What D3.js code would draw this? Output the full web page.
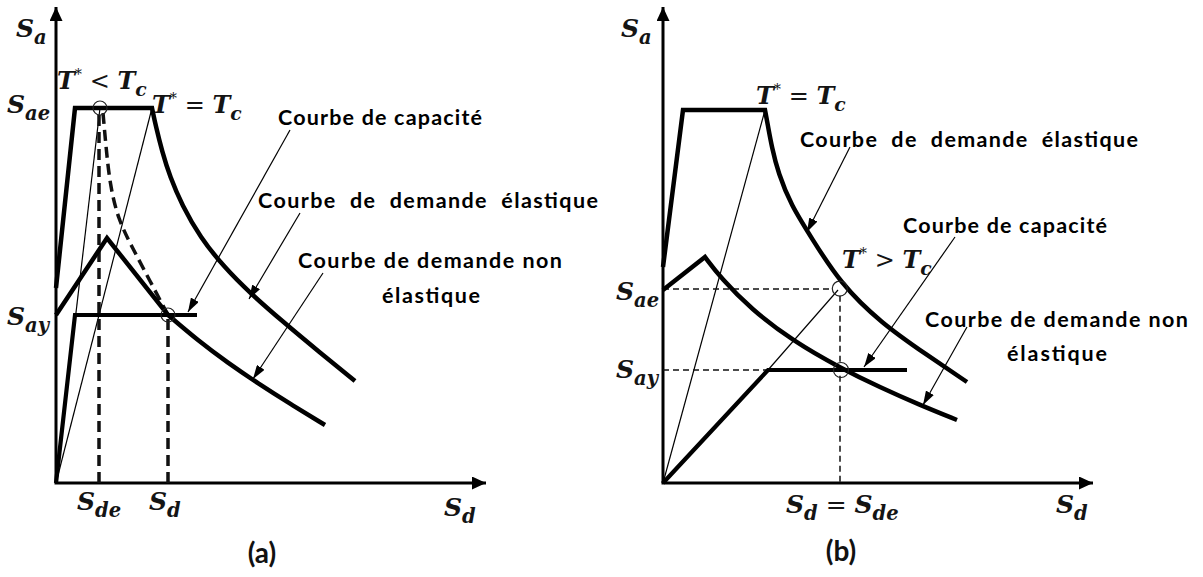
<!DOCTYPE html>
<html>
<head>
<meta charset="utf-8">
<script src="https://cdn.jsdelivr.net/npm/d3@7"></script>
<style>
  body { margin: 0; background: #fff; }
  svg { display: block; }
  .math { font-family: "DejaVu Serif", "Liberation Serif", serif; font-style: italic; font-weight: bold; fill: #141414; }
  .lbl { font-family: Lato, "Open Sans", sans-serif; font-weight: bold; fill: #000; white-space: pre; }
  .panel { font-family: Lato, "Open Sans", sans-serif; font-weight: bold; fill: #111; }
</style>
</head>
<body>
<svg id="chart" width="1203" height="577"></svg>
<script>
// ---------- Panel (a): T* < Tc  (Sd, Sa in arbitrary units) ----------
const aElasticRise   = [[0, 4.875], [0.475, 9.375], [2.4, 9.375]];
const aElasticFall   = [[2.4, 9.375], [2.5, 8.9], [2.65, 8.3], [2.85, 7.65], [3.15, 6.95],
                        [3.6, 6.15], [4.2, 5.4], [4.85, 4.75], [5.65, 4.05], [6.55, 3.3], [7.475, 2.55]];
const aInelasticRise = [[0, 4.2], [1.275, 6.125], [2.8, 4.2]];
const aInelasticFall = [[2.8, 4.2], [3.55, 3.56], [4.3, 3.0], [5.05, 2.49], [5.85, 1.98], [6.725, 1.45]];
const aCapacity      = [[0, 0], [0.475, 4.2], [3.525, 4.2]];
const aPeriodRays    = [[[0, 0], [1.1, 9.375]], [[0, 0], [2.4, 9.375]]];
const aEquivDemand   = [[1.175, 9.25], [1.25, 8.4], [1.35, 7.45], [1.55, 6.6], [1.9, 5.9], [2.35, 5.05], [2.8, 4.2]];
const aPoints        = [[1.1, 9.375], [2.8, 4.2]];
const aSae = 9.375, aSay = 4.2, aSde = 1.075, aSd = 2.8;

// ---------- Panel (b): T* > Tc ----------
const bElasticRise   = [[0, 5.4], [0.5, 9.325], [2.55, 9.325]];
const bElasticFall   = [[2.55, 9.325], [2.62, 8.95], [2.72, 8.4], [2.88, 7.75], [3.2, 6.95], [3.7, 6.15],
                        [4.425, 5.0], [5.45, 4.0], [6.6, 3.2], [7.6, 2.525]];
const bInelasticRise = [[0, 4.825], [1.05, 5.65]];
const bInelasticFall = [[1.05, 5.65], [1.45, 5.12], [2.2, 4.35], [3.25, 3.55], [4.425, 2.88],
                        [5.45, 2.38], [6.4, 1.96], [7.35, 1.575]];
const bCapacity      = [[0, 0], [2.625, 2.825], [6.1, 2.825]];
const bCapExtension  = [[2.625, 2.825], [4.375, 4.825]];
const bPeriodRay     = [[0, 0], [2.55, 9.325]];
const bPoints        = [[4.42, 4.86], [4.45, 2.825]];
const bSae = 4.85, bSay = 2.825, bSd = 4.425;

// Annotation texts
const curveNames = ["Courbe de capacité", "Courbe  de  demande  élastique", "Courbe de demande non", "élastique"];
const panelTags  = ["(a)", "(b)"];

// ---------- drawing ----------
const svg = d3.select("#chart");
svg.append("rect").attr("width", 1203).attr("height", 577).attr("fill", "#fff");
const defs = svg.append("defs");
function marker(id, len, wid) {
  defs.append("marker").attr("id", id)
    .attr("viewBox", `0 0 ${len} ${wid}`)
    .attr("refX", len).attr("refY", wid / 2)
    .attr("markerWidth", len).attr("markerHeight", wid)
    .attr("markerUnits", "userSpaceOnUse").attr("orient", "auto")
    .append("path").attr("d", `M0,0L${len},${wid / 2}L0,${wid}Z`).attr("fill", "#000");
}
marker("axisHead", 14, 13);
marker("leadHead", 14, 9);

const y  = d3.scaleLinear().domain([0, 10]).range([483, 83]);
const xA = d3.scaleLinear().domain([0, 10]).range([56, 456]);
const xB = d3.scaleLinear().domain([0, 10]).range([663, 1063]);

function mathText(x0, y0, parts, size) {
  const t = svg.append("text").attr("class", "math").attr("x", x0).attr("y", y0).style("font-size", size + "px");
  let shift = 0;
  parts.forEach(p => {
    const target = p.sub ? size * 0.28 : p.sup ? -size * 0.42 : 0;
    const s = t.append("tspan").text(p.t).attr("dy", target - shift);
    if (p.dx) s.attr("dx", p.dx);
    shift = target;
    if (p.sub) s.style("font-size", (size * 0.78) + "px");
    if (p.sup) s.style("font-size", (size * 0.6) + "px").style("font-weight", "normal");
    if (p.op) s.style("font-style", "normal").style("font-weight", "normal");
  });
  return t;
}

function drawPanel(x, d) {
  const line = d3.line().x(p => x(p[0])).y(p => y(p[1]));
  const smooth = d3.line().x(p => x(p[0])).y(p => y(p[1])).curve(d3.curveBasis);
  const joined = (lin, cur) => line(lin) + smooth(cur).replace(/^M[^A-Za-z]+/, "");
  const g = svg.append("g");

  // axes
  g.append("line").attr("x1", x(0)).attr("y1", y(0)).attr("x2", x(0)).attr("y2", y(11.9))
    .attr("stroke", "#000").attr("stroke-width", 3).attr("marker-end", "url(#axisHead)");
  g.append("line").attr("x1", x(0) - 1.5).attr("y1", y(0)).attr("x2", x(d.xEnd)).attr("y2", y(0))
    .attr("stroke", "#000").attr("stroke-width", 3).attr("marker-end", "url(#axisHead)");

  // thin period rays
  d.rays.forEach(r => g.append("path").attr("d", line(r)).attr("fill", "none")
    .attr("stroke", "#000").attr("stroke-width", 1.2));

  // dashed guides
  d.dashes.forEach(r => g.append("path").attr("d", r.smooth ? smooth(r.pts) : line(r.pts)).attr("fill", "none")
    .attr("stroke", "#111").attr("stroke-width", r.w).attr("stroke-dasharray", r.dash));

  // bold curves
  const bold = (dstr, w) => g.append("path").attr("d", dstr).attr("fill", "none")
    .attr("stroke", "#000").attr("stroke-width", w).attr("stroke-linejoin", "miter");
  bold(joined(d.elasticRise, d.elasticFall), 4.5);
  bold(joined(d.inelasticRise, d.inelasticFall), 4.5);
  bold(line(d.capacity), 4.2);

  // performance points
  d.points.forEach(p => g.append("circle").attr("cx", x(p[0])).attr("cy", y(p[1])).attr("r", d.r)
    .attr("fill", "none").attr("stroke", "#222").attr("stroke-width", 1.2));

  // leaders with arrowheads
  d.leaders.forEach(l => g.append("line")
    .attr("x1", x(l[0][0])).attr("y1", y(l[0][1])).attr("x2", x(l[1][0])).attr("y2", y(l[1][1]))
    .attr("stroke", "#000").attr("stroke-width", 1.2).attr("marker-end", "url(#leadHead)"));
}

// Panel (a)
drawPanel(xA, {
  xEnd: 10.75, r: 7,
  elasticRise: aElasticRise, elasticFall: aElasticFall,
  inelasticRise: aInelasticRise, inelasticFall: aInelasticFall,
  capacity: aCapacity, rays: aPeriodRays, points: aPoints,
  dashes: [
    { pts: [[aSde, 9.2], [aSde, 0]], w: 3.5, dash: "11,6" },
    { pts: [[aSd, 4.1], [aSd, 0]], w: 3.5, dash: "11,6" },
    { pts: aEquivDemand, w: 3.5, dash: "11,6", smooth: true }
  ],
  leaders: [
    [[5.85, 8.825], [3.3, 4.275]],
    [[6.1, 6.75], [4.825, 4.6]],
    [[6.675, 5.25], [4.925, 2.6]]
  ]
});

// Panel (b)
drawPanel(xB, {
  xEnd: 10.75, r: 7.5,
  elasticRise: bElasticRise, elasticFall: bElasticFall,
  inelasticRise: bInelasticRise, inelasticFall: bInelasticFall,
  capacity: bCapacity, rays: [bPeriodRay, bCapExtension], points: bPoints,
  dashes: [
    { pts: [[0, bSae], [4.25, bSae]], w: 1.5, dash: "6,4" },
    { pts: [[0, bSay], [2.625, bSay]], w: 1.5, dash: "6,4" },
    { pts: [[bSd, 4.68], [bSd, 0]], w: 1.5, dash: "6,4" }
  ],
  leaders: [
    [[4.675, 8.4], [3.6, 6.275]],
    [[7.3, 6.15], [5.025, 2.9]],
    [[7.6, 3.9], [6.5, 1.95]]
  ]
});

// ---------- math labels ----------
const M = 25;
// panel (a)
mathText(16, 37, [{t: "S"}, {t: "a", sub: true}], M);
mathText(7, y(aSae) + 5, [{t: "S"}, {t: "ae", sub: true}], M);
mathText(7, y(aSay) + 10, [{t: "S"}, {t: "ay", sub: true}], M);
mathText(xA(aSde) - 22, 510, [{t: "S"}, {t: "de", sub: true}], M);
mathText(xA(aSd) - 19, 510, [{t: "S"}, {t: "d", sub: true}], M);
mathText(444, 516, [{t: "S"}, {t: "d", sub: true}], M);
mathText(57, 89, [{t: "T"}, {t: "*", sup: true}, {t: " < ", op: true}, {t: "T"}, {t: "c", sub: true}], 24);
mathText(152, 113, [{t: "T"}, {t: "*", sup: true}, {t: " = ", op: true}, {t: "T"}, {t: "c", sub: true}], 24);
// panel (b)
mathText(621, 37, [{t: "S"}, {t: "a", sub: true}], M);
mathText(616, y(bSae) + 11, [{t: "S"}, {t: "ae", sub: true}], M);
mathText(616, y(bSay) + 8, [{t: "S"}, {t: "ay", sub: true}], M);
mathText(xB(bSd) - 54, 513, [{t: "S"}, {t: "d", sub: true}, {t: " = ", op: true}, {t: "S"}, {t: "de", sub: true}], M);
mathText(1056, 513, [{t: "S"}, {t: "d", sub: true}], M);
mathText(756, 104, [{t: "T"}, {t: "*", sup: true}, {t: " = ", op: true}, {t: "T"}, {t: "c", sub: true}], 24);
mathText(842, 268, [{t: "T"}, {t: "*", sup: true}, {t: " > ", op: true}, {t: "T"}, {t: "c", sub: true}], 24);

// ---------- curve names ----------
function label(txt, x0, y0, len) {
  svg.append("text").attr("class", "lbl").attr("x", x0).attr("y", y0)
    .style("font-size", "21.5px").attr("textLength", len).attr("lengthAdjust", "spacing").text(txt);
}
label(curveNames[0], 278, 125, 204);
label(curveNames[1], 258, 208, 340);
label(curveNames[2], 298, 268, 264);
label(curveNames[3], 382, 303, 98);
label(curveNames[1], 800, 147, 338);
label(curveNames[0], 903, 233, 204);
label(curveNames[2], 925, 327, 263);
label(curveNames[3], 1007, 361, 100);

svg.append("text").attr("class", "panel").attr("x", 262).attr("y", 563).attr("text-anchor", "middle")
  .style("font-size", "28px").text(panelTags[0]);
svg.append("text").attr("class", "panel").attr("x", 841).attr("y", 561).attr("text-anchor", "middle")
  .style("font-size", "28px").text(panelTags[1]);
</script>
</body>
</html>
